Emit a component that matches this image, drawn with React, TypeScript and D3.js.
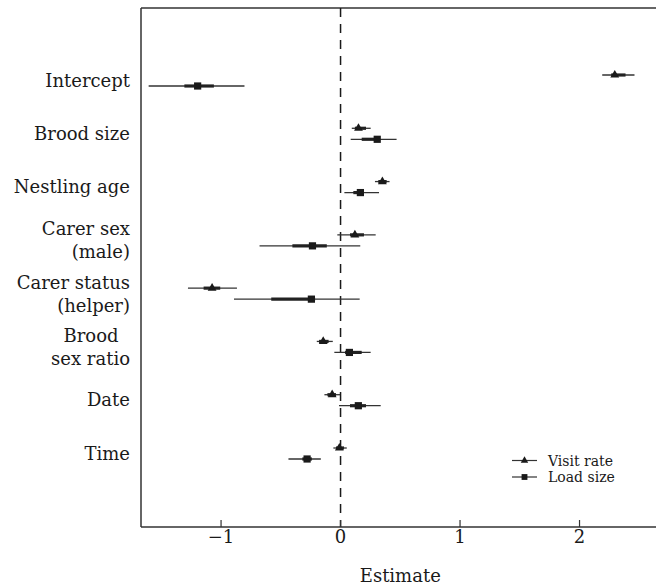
import React from 'react';
import * as d3 from 'd3';

const categories = ["Intercept", "Brood size", "Nestling age", "Carer sex (male)", "Carer status (helper)", "Brood sex ratio", "Date", "Time"];
const categoryLines = [["Intercept"], ["Brood size"], ["Nestling age"], ["Carer sex", "(male)"], ["Carer status", "(helper)"], ["Brood\u00A0\u00A0", "sex ratio"], ["Date"], ["Time"]];

const visitEst = [2.295, 0.15, 0.35, 0.12, -1.075, -0.145, -0.07, -0.01];
const visitLo95 = [2.19, 0.094, 0.288, -0.027, -1.277, -0.199, -0.135, -0.06];
const visitHi95 = [2.46, 0.252, 0.41, 0.294, -0.867, -0.065, -0.004, 0.052];
const visitLo50 = [2.265, 0.12, 0.316, 0.079, -1.146, -0.18, -0.11, -0.038];
const visitHi50 = [2.385, 0.213, 0.386, 0.196, -1.007, -0.1, -0.038, 0.029];

const loadEst = [-1.196, 0.307, 0.166, -0.235, -0.244, 0.074, 0.149, -0.28];
const loadLo95 = [-1.606, 0.085, 0.032, -0.678, -0.892, -0.052, -0.013, -0.436];
const loadHi95 = [-0.804, 0.469, 0.322, 0.165, 0.16, 0.252, 0.336, -0.165];
const loadLo50 = [-1.307, 0.177, 0.107, -0.403, -0.58, 0.038, 0.079, -0.32];
const loadHi50 = [-1.06, 0.33, 0.196, -0.115, -0.213, 0.177, 0.213, -0.24];

const xTicks = [-1, 0, 1, 2];
const seriesNames = ["Visit rate", "Load size"];

const W = 656;
const H = 585;
const left = 141;
const top = 8;
const bottom = 527;
const FONT = "'DejaVu Serif', serif";
const INK = "#1a1a1a";

export default function App() {
  const x = d3.scaleLinear().domain([-1.67, 2.64]).range([left, W]);
  const y = d3.scalePoint<string>().domain(categories).range([80.5, 453.5]);
  const off = 5.5;

  const tri = d3.symbol().type(d3.symbolTriangle).size(34)();
  const sq = d3.symbol().type(d3.symbolSquare).size(52)();
  const triL = d3.symbol().type(d3.symbolTriangle).size(24)();
  const sqL = d3.symbol().type(d3.symbolSquare).size(34)();

  const series = [
    { est: visitEst, lo95: visitLo95, hi95: visitHi95, lo50: visitLo50, hi50: visitHi50, dy: -off, sym: tri },
    { est: loadEst, lo95: loadLo95, hi95: loadHi95, lo50: loadLo50, hi50: loadHi50, dy: off, sym: sq },
  ];

  return (
    <svg width={W} height={H} style={{ position: 'absolute', left: 0, top: 0, background: '#fff' }} fontFamily={FONT}>
      {/* frame */}
      <line x1={left} x2={W} y1={top} y2={top} stroke="#333" strokeWidth={1.3} />
      <line x1={left} x2={left} y1={top} y2={bottom} stroke="#333" strokeWidth={1.5} />
      <line x1={left} x2={W} y1={bottom} y2={bottom} stroke="#333" strokeWidth={1.5} />
      {/* zero line */}
      <line x1={x(0)} x2={x(0)} y1={top} y2={bottom} stroke={INK} strokeWidth={1.5} strokeDasharray="9,7" />
      {/* x ticks */}
      {xTicks.map((t) => (
        <g key={t}>
          <line x1={x(t)} x2={x(t)} y1={bottom - 7} y2={bottom} stroke="#333" strokeWidth={1.2} />
          <text x={x(t)} y={543} textAnchor="middle" fontSize={18} fill={INK}>
            {t < 0 ? `\u2212${Math.abs(t)}` : `${t}`}
          </text>
        </g>
      ))}
      <text x={x(0.5)} y={582} textAnchor="middle" fontSize={18} fill={INK}>Estimate</text>
      {/* category labels */}
      {categories.map((c, i) => {
        const lines = categoryLines[i];
        const cy = y(c) as number;
        if (lines.length === 1) {
          return (
            <text key={c} x={130} y={cy + 6} textAnchor="end" fontSize={18} fill={INK}>{lines[0]}</text>
          );
        }
        return (
          <text key={c} textAnchor="end" fontSize={18} fill={INK} style={{ whiteSpace: 'pre' }}>
            <tspan x={130} y={cy - 5}>{lines[0]}</tspan>
            <tspan x={130} y={cy + 18}>{lines[1]}</tspan>
          </text>
        );
      })}
      {/* estimates */}
      {series.map((s, si) => (
        <g key={si}>
          {categories.map((c, i) => {
            const cy = (y(c) as number) + s.dy;
            return (
              <g key={c}>
                <line x1={x(s.lo95[i])} x2={x(s.hi95[i])} y1={cy} y2={cy} stroke="#333" strokeWidth={1.3} />
                <line x1={x(s.lo50[i])} x2={x(s.hi50[i])} y1={cy} y2={cy} stroke="#222" strokeWidth={3.2} />
                <path d={s.sym as string} transform={`translate(${x(s.est[i])},${cy})`} fill={INK} />
              </g>
            );
          })}
        </g>
      ))}
      {/* legend */}
      {seriesNames.map((n, i) => {
        const ly = 460.5 + i * 16.5;
        return (
          <g key={n}>
            <line x1={512} x2={537} y1={ly} y2={ly} stroke="#333" strokeWidth={1.2} />
            <path d={(i === 0 ? triL : sqL) as string} transform={`translate(524.5,${ly})`} fill={INK} />
            <text x={548} y={ly + 5} fontSize={14} fill={INK}>{n}</text>
          </g>
        );
      })}
    </svg>
  );
}
